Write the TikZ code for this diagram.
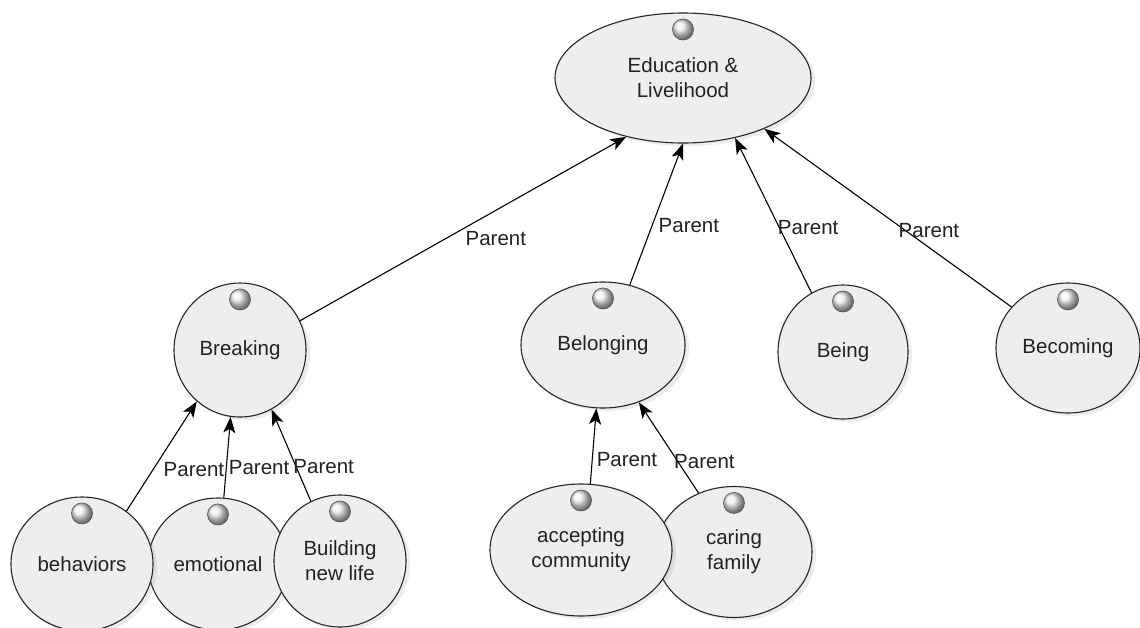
\documentclass[tikz,border=0pt]{standalone}
\usepackage{fontspec}
\setmainfont{Liberation Sans}
\usetikzlibrary{arrows.meta,shapes.geometric,shadows}
\definecolor{nodefill}{HTML}{EEEEEE}
\definecolor{inkgray}{HTML}{222222}
\tikzset{
  concept/.style={ellipse, draw=black!85, line width=1.1pt, fill=nodefill,
    inner sep=0pt, align=center, text=inkgray,
    font=\fontsize{20.5}{25}\selectfont,
    drop shadow={shadow xshift=4pt, shadow yshift=-3pt, opacity=0.15}},
  parentedge/.style={line width=1.1pt, -{Stealth[length=16pt,width=12pt,inset=4pt]}},
  lbl/.style={font=\fontsize{20.5}{25}\selectfont, text=inkgray, inner sep=2pt},
  knob/.style={ball color=gray!12, draw=black!65, line width=0.7pt}
}
\begin{document}
\begin{tikzpicture}[x=1pt,y=1pt]
  \useasboundingbox[fill=white] (0,0) rectangle (1140,-627);

  % top level
  \node[concept, minimum width=256pt, minimum height=130pt] (edu) at (683,-78) {Education \&\\Livelihood};

  % second level
  \node[concept, minimum width=132pt, minimum height=134pt] (brk) at (240,-350) {Breaking};
  \node[concept, minimum width=164pt, minimum height=126pt] (blg) at (603,-345) {Belonging};
  \node[concept, minimum width=130pt, minimum height=134pt] (bei) at (843,-352) {Being};
  \node[concept, minimum width=144pt, minimum height=130pt] (bec) at (1068,-348) {Becoming};

  % third level
  \node[concept, minimum width=140pt, minimum height=132pt] (emo) at (218,-564) {emotional};
  \node[concept, minimum width=142pt, minimum height=134pt] (beh) at (82,-564) {behaviors};
  \node[concept, minimum width=132pt, minimum height=132pt] (bnl) at (340,-561) {Building\\new life};
  \node[concept, minimum width=156pt, minimum height=131pt] (car) at (734,-552) {caring\\family};
  \node[concept, minimum width=182pt, minimum height=132pt] (acc) at (581,-550) {accepting\\community};

  % little knobs
  \foreach \n in {edu,brk,blg,bei,bec,emo,beh,bnl,car,acc}
    \shadedraw[knob] ([yshift=-17pt]\n.north) circle (10.5pt);

  % links to parents
  \draw[parentedge] (brk.26) -- node[lbl, pos=0.5, anchor=north west] {Parent} (edu.226);
  \draw[parentedge] (blg.66) -- node[lbl, pos=0.42, anchor=west, xshift=4pt] {Parent} (edu.270);
  \draw[parentedge] (bei.118) -- node[lbl, pos=0.42, anchor=west, xshift=-4pt] {Parent} (edu.311);
  \draw[parentedge] (bec.144) -- node[lbl, pos=0.43, anchor=west, xshift=-9pt] {Parent} (edu.328);

  \draw[parentedge] (beh.50) -- node[lbl, pos=0.38, anchor=west, xshift=8pt] {Parent} (brk.230);
  \draw[parentedge] (emo.85) -- node[lbl, pos=0.37, anchor=west, xshift=0pt] {Parent} (brk.262);
  \draw[parentedge] (bnl.116) -- node[lbl, pos=0.38, anchor=west, xshift=-5pt] {Parent} (brk.298);

  \draw[parentedge] (acc.82) -- node[lbl, pos=0.32, anchor=west, xshift=2pt] {Parent} (blg.264);
  \draw[parentedge] (car.121) -- node[lbl, pos=0.35, anchor=west, xshift=-6pt] {Parent} (blg.302);
\end{tikzpicture}
\end{document}
